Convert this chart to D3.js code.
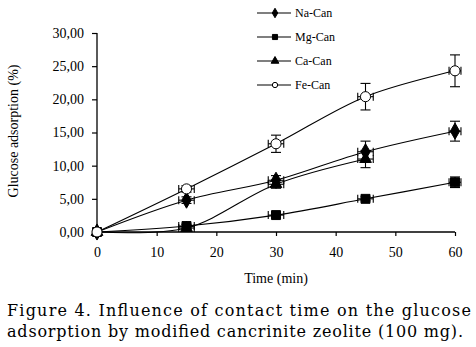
<!DOCTYPE html>
<html><head><meta charset="utf-8">
<script src="https://cdn.jsdelivr.net/npm/d3@7"></script>
<style>body{margin:0;background:#fff}svg{display:block}</style>
</head><body>
<script>
const times = [0, 15, 30, 45, 60];
const naCan = [0, 4.8, 7.8, 12.1, 15.2];
const naErr = [0.3, 0.5, 0.7, 1.6, 1.5];
const mgCan = [0, 0.9, 2.55, 5.0, 7.5];
const mgErr = [0.2, 0.3, 0.4, 0.3, 0.8];
const caCan = [0, 0.6, 7.2, 11.0];
const caErr = [0.2, 0.5, 0.6, 1.3];
const feCan = [0, 6.5, 13.3, 20.4, 24.3];
const feErr = [0.3, 0.5, 1.3, 2.0, 2.4];
const xErr = [0, 1.3, 1.3, 1.3, 1.0];
const seriesNames = ["Na-Can", "Mg-Can", "Ca-Can", "Fe-Can"];
const yTicks = [0, 5, 10, 15, 20, 25, 30];
const xTicks = [0, 10, 20, 30, 40, 50, 60];
const caption = ["Figure 4. Influence of contact time on the glucose", "adsorption by modified cancrinite zeolite (100 mg)."];

const W = 476, H = 347;
const svg = d3.select("body").append("svg").attr("width", W).attr("height", H);
const x = d3.scaleLinear().domain([0, 60]).range([97, 455]);
const y = d3.scaleLinear().domain([0, 30]).range([232, 33]);
const serif = "'Liberation Serif', 'Times New Roman', serif";

const series = [
  {name: seriesNames[0], vals: naCan, err: naErr, sym: "diamond"},
  {name: seriesNames[1], vals: mgCan, err: mgErr, sym: "square"},
  {name: seriesNames[2], vals: caCan, err: caErr, sym: "triangle"},
  {name: seriesNames[3], vals: feCan, err: feErr, sym: "circle"}
];

const yAxis = svg.append("g").attr("transform", `translate(${x(0)},0)`)
  .call(d3.axisLeft(y).tickValues(yTicks).tickSize(5).tickPadding(8)
    .tickFormat(d => d3.format(".2f")(d).replace(".", ",")));
const xAxis = svg.append("g").attr("transform", `translate(0,${y(0)})`)
  .call(d3.axisBottom(x).tickValues(xTicks).tickSize(4).tickPadding(11));
[yAxis, xAxis].forEach(g => {
  g.attr("font-family", null);
  g.select(".domain").attr("stroke", "#000").attr("stroke-width", 1.3);
  g.selectAll(".tick line").attr("stroke", "#000").attr("stroke-width", 1.2);
  g.selectAll("text").style("font-family", serif).attr("font-size", 14).attr("fill", "#000");
});
yAxis.select(".domain").attr("d", `M0,${y(30)}V${y(0)}`);
xAxis.select(".domain").attr("d", `M${x(0)},0H${x(60)}`);

svg.append("text").attr("x", 276).attr("y", 283).attr("text-anchor", "middle")
  .style("font-family", serif).attr("font-size", 14).text("Time (min)");
svg.append("text").attr("transform", "translate(18,131) rotate(-90)").attr("text-anchor", "middle")
  .style("font-family", serif).attr("font-size", 14).text("Glucose adsorption (%)");

function symbolPath(sym, size) {
  const t = {diamond: d3.symbolDiamond, square: d3.symbolSquare, triangle: d3.symbolTriangle, circle: d3.symbolCircle}[sym];
  return d3.symbol().type(t).size(size)();
}
const sizes = {diamond: 75, square: 80, triangle: 60, circle: 80};

const line = d3.line().x((d, i) => x(times[i])).y(d => y(d)).curve(d3.curveCatmullRom.alpha(0.5));
const plot = svg.append("g");
series.forEach(s => {
  plot.append("path").attr("d", line(s.vals)).attr("fill", "none").attr("stroke", "#000").attr("stroke-width", 1.1);
});
series.forEach(s => {
  s.vals.forEach((v, i) => {
    const cx = x(times[i]), cy = y(v);
    const g = plot.append("g").attr("stroke", "#000").attr("stroke-width", 1.1);
    const e = s.err[i];
    if (e > 0) {
      g.append("line").attr("x1", cx).attr("x2", cx).attr("y1", y(v + e)).attr("y2", y(v - e));
      g.append("line").attr("x1", cx - 5).attr("x2", cx + 5).attr("y1", y(v + e)).attr("y2", y(v + e));
      g.append("line").attr("x1", cx - 5).attr("x2", cx + 5).attr("y1", y(v - e)).attr("y2", y(v - e));
    }
    const xe = xErr[i];
    if (xe > 0) {
      g.append("line").attr("x1", x(times[i] - xe)).attr("x2", x(times[i] + xe)).attr("y1", cy).attr("y2", cy);
      g.append("line").attr("x1", x(times[i] - xe)).attr("x2", x(times[i] - xe)).attr("y1", cy - 4).attr("y2", cy + 4);
      g.append("line").attr("x1", x(times[i] + xe)).attr("x2", x(times[i] + xe)).attr("y1", cy - 4).attr("y2", cy + 4);
    }
    plot.append("path").attr("d", symbolPath(s.sym, sizes[s.sym]))
      .attr("transform", `translate(${cx},${cy})`)
      .attr("fill", s.sym === "circle" ? "#fff" : "#000").attr("stroke", "#000").attr("stroke-width", 1);
  });
});

const leg = svg.append("g");
series.forEach((s, i) => {
  const ly = 13 + i * 24;
  leg.append("line").attr("x1", 257).attr("x2", 291).attr("y1", ly).attr("y2", ly).attr("stroke", "#000").attr("stroke-width", 1.1);
  leg.append("path").attr("d", symbolPath(s.sym, s.sym === "circle" ? 22 : 26))
    .attr("transform", `translate(275,${ly})`)
    .attr("fill", s.sym === "circle" ? "#fff" : "#000").attr("stroke", "#000").attr("stroke-width", 1);
  leg.append("text").attr("x", 295).attr("y", ly + 4).style("font-family", serif).attr("font-size", 12).text(s.name);
});

const capFont = "'DejaVu Serif', serif";
svg.append("text").attr("x", 7).attr("y", 316).style("font-family", capFont).attr("font-size", 16)
  .attr("textLength", 464).attr("lengthAdjust", "spacing").text(caption[0]);
svg.append("text").attr("x", 7).attr("y", 337).style("font-family", capFont).attr("font-size", 16)
  .attr("textLength", 456).attr("lengthAdjust", "spacing").text(caption[1]);
</script>
</body></html>
